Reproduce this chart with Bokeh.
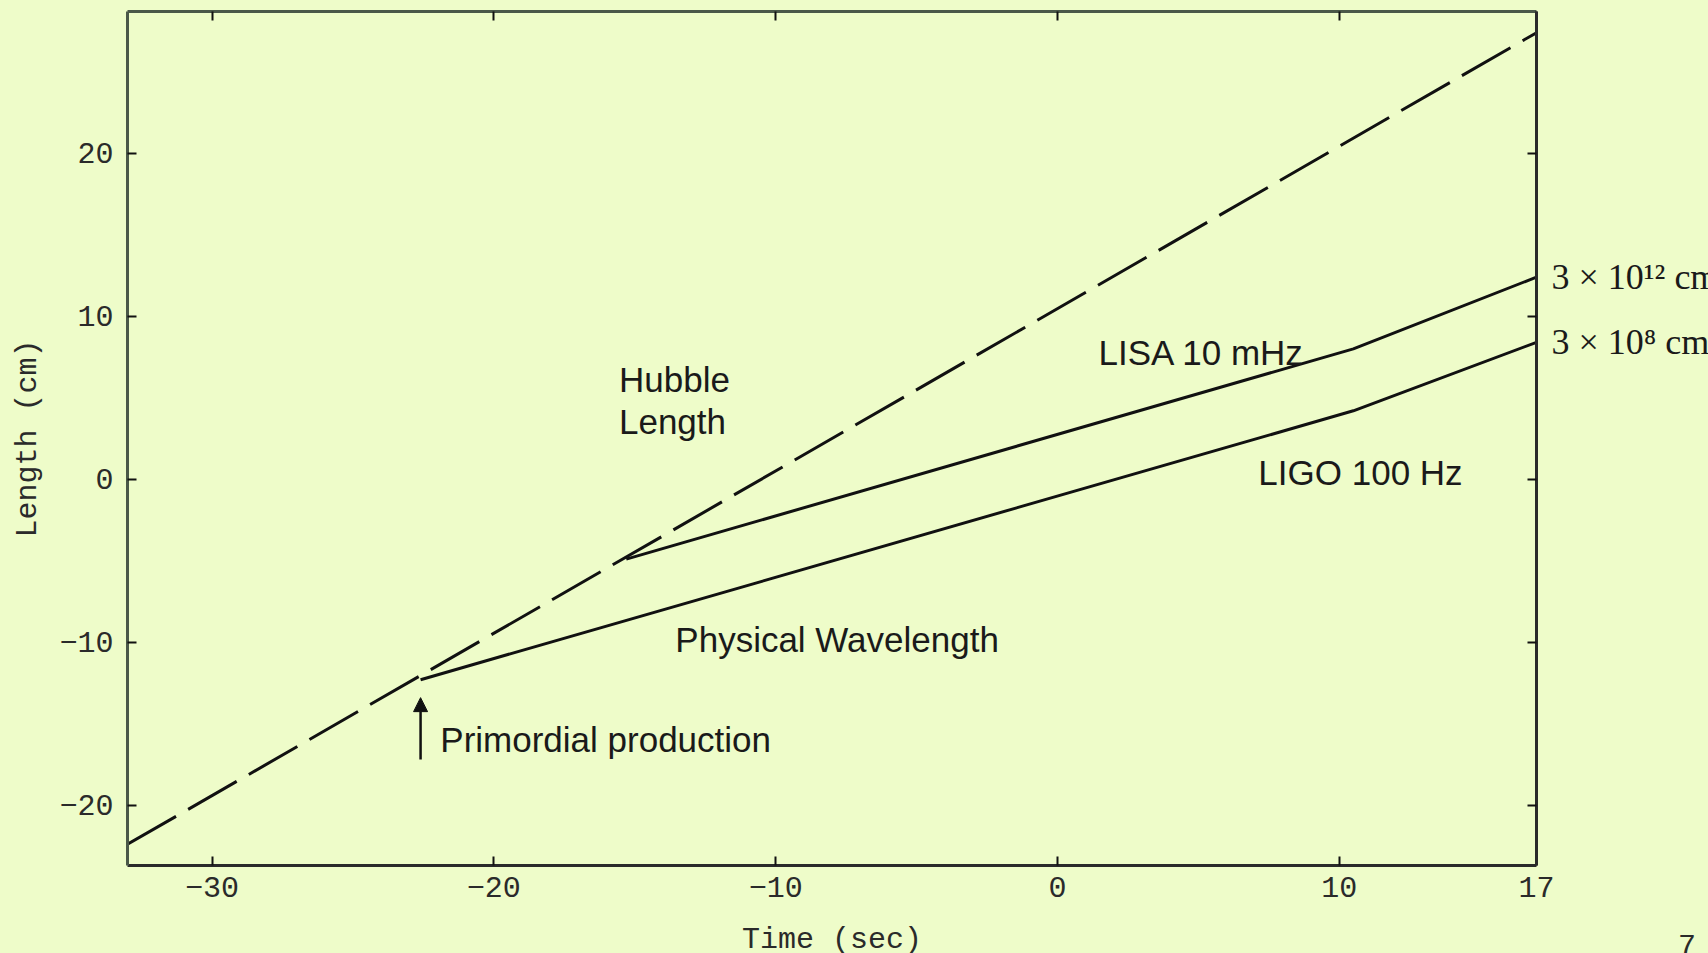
from bokeh.plotting import figure
from bokeh.models import Range1d, LinearAxis, FixedTicker, Label, Arrow, NormalHead
from bokeh.embed import file_html
from bokeh.resources import INLINE

# ---------------- data ----------------
X_MIN, X_MAX = -33, 17
Y_MIN, Y_MAX = -23.7, 28.7
X_TICKS = [-30, -20, -10, 0, 10, 17]
Y_TICKS = [-20, -10, 0, 10, 20]

HUBBLE_T = [-33, 17]
HUBBLE_L = [-22.4, 27.4]
LISA_T = [-15.3, 10.5, 17]
LISA_L = [-4.9, 8.0, 12.4]
LIGO_T = [-22.6, 10.5, 17]
LIGO_L = [-12.3, 4.2, 8.4]
ARROW_L = [-17.2, -13.4]
END_LABELS = ["3 × 10¹² cm", "3 × 10⁸ cm"]

BG = "#EEFCC9"
INK = "#111111"
SANS = "Liberation Sans"
MONO = "Liberation Mono"
SERIF = "Liberation Serif"

p = figure(frame_width=1409, frame_height=854,
           x_range=Range1d(X_MIN, X_MAX), y_range=Range1d(Y_MIN, Y_MAX),
           output_backend="svg", toolbar_location=None,
           min_border_left=127, min_border_right=172,
           min_border_top=11, min_border_bottom=88,
           background_fill_color=BG, border_fill_color=BG,
           outline_line_color=None)
p.grid.visible = False

def style_axis(ax, labels=True, color="#2a2a2a"):
    ax.axis_line_color = color
    ax.axis_line_width = 3
    ax.major_tick_line_color = INK
    ax.major_tick_line_width = 2
    ax.major_tick_in = 9
    ax.major_tick_out = 0
    ax.minor_tick_line_color = None
    if labels:
        ax.major_label_text_font = MONO
        ax.major_label_text_font_size = "30px"
        ax.major_label_text_color = "#2a2a2a"
    else:
        ax.major_label_text_font_size = "0px"
        ax.major_label_standoff = 0

p.xaxis.ticker = FixedTicker(ticks=X_TICKS)
p.yaxis.ticker = FixedTicker(ticks=Y_TICKS)
style_axis(p.xaxis[0])
style_axis(p.yaxis[0], color="#4a5848")
p.xaxis.major_label_standoff = 11
p.yaxis.major_label_standoff = 14
for ax, name, standoff in [(p.yaxis[0], "Length (cm)", 11), (p.xaxis[0], "Time (sec)", 23)]:
    ax.axis_label = name
    ax.axis_label_text_font = MONO
    ax.axis_label_text_font_style = "normal"
    ax.axis_label_text_font_size = "30px"
    ax.axis_label_text_color = "#2a2a2a"
    ax.axis_label_standoff = standoff

top = LinearAxis(ticker=FixedTicker(ticks=X_TICKS))
style_axis(top, labels=False, color="#4a5848")
p.add_layout(top, "above")
right = LinearAxis(ticker=FixedTicker(ticks=Y_TICKS))
style_axis(right, labels=False)
p.add_layout(right, "right")

# end-of-line labels as a tickless right axis
ends = [LISA_L[-1], LIGO_L[-1]]
right2 = LinearAxis(ticker=FixedTicker(ticks=ends),
                    major_label_overrides={v: s for v, s in zip(ends, END_LABELS)})
right2.axis_line_color = None
right2.major_tick_line_color = None
right2.minor_tick_line_color = None
right2.major_label_standoff = 9
right2.major_label_text_font = SERIF
right2.major_label_text_font_size = "36px"
right2.major_label_text_color = "#1a1a1a"
p.add_layout(right2, "right")

# ---------------- lines ----------------
p.line(HUBBLE_T, HUBBLE_L, line_color=INK, line_width=3, line_dash="56 14")
p.line(LISA_T, LISA_L, line_color=INK, line_width=3)
p.line(LIGO_T, LIGO_L, line_color=INK, line_width=3)

p.add_layout(Arrow(end=NormalHead(size=14, fill_color=INK, line_color=INK, line_width=1),
                   x_start=LIGO_T[0], y_start=ARROW_L[0],
                   x_end=LIGO_T[0], y_end=ARROW_L[1],
                   line_color=INK, line_width=2.5))

# ---------------- annotations ----------------
def txt(x, y, s, font=SANS, size="35px", **kw):
    opts = dict(text_font=font, text_font_size=size, text_color="#1a1a1a",
                text_baseline="middle", text_align="left")
    opts.update(kw)
    p.add_layout(Label(x=x, y=y, text=s, **opts))

txt(-15.56, 6.09, "Hubble")
txt(-15.56, 3.54, "Length")
txt(1.46, 7.75, "LISA 10 mHz")
txt(7.13, 0.40, "LIGO 100 Hz")
txt(-13.56, -9.84, "Physical Wavelength")
txt(-21.9, -15.95, "Primordial production")

html = file_html(p, INLINE, title="Length vs Time")
i = html.rfind("<body")
if i >= 0:
    html = (html[:i] + '<body style="margin:0;overflow:hidden;background-color:%s;"' % BG
            + html[i + 5:])
page_no = ('<div style="position:absolute;left:1678px;top:932px;font-family:\'Liberation Mono\';'
           'font-size:30px;line-height:1;color:#2a2a2a;">7</div>')
j = html.rfind("</body>")
html = html[:j] + page_no + "<style>html{overflow:hidden;}</style>" + html[j:]
open("out.html", "w").write(html)
